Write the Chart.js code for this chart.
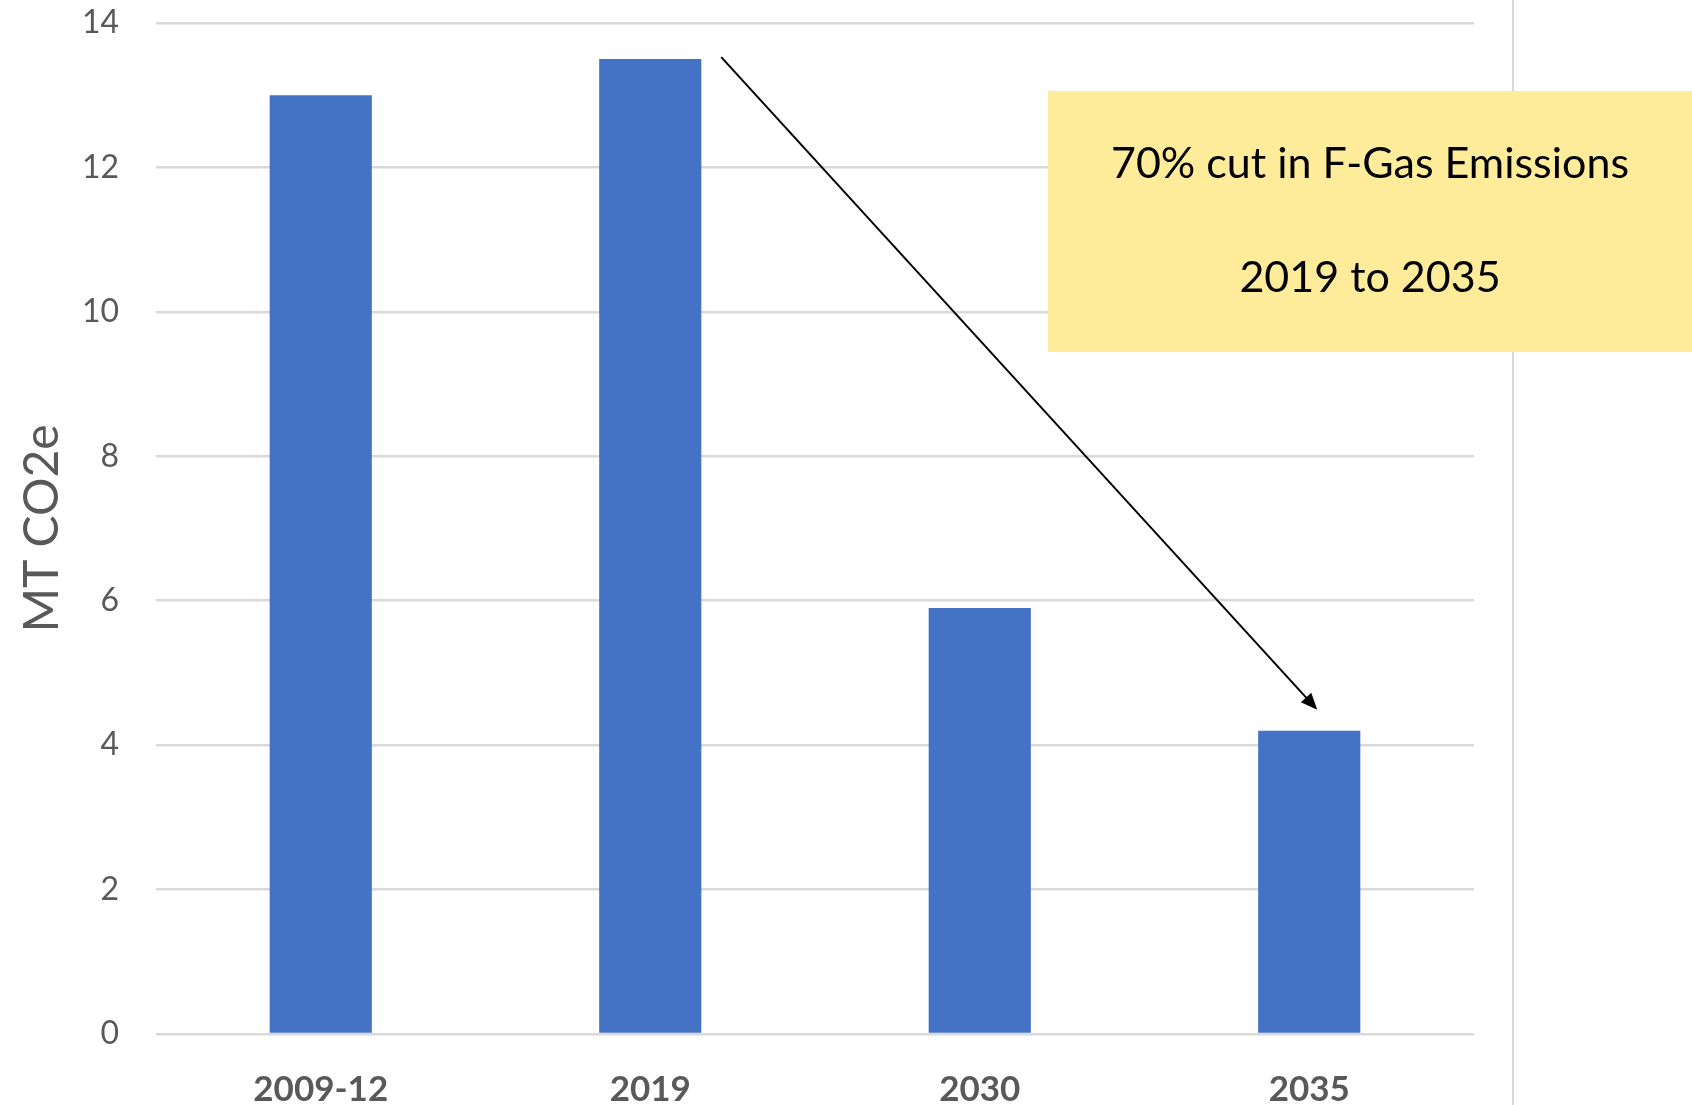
<!DOCTYPE html>
<html>
<head>
<meta charset="utf-8">
<script src="https://cdn.jsdelivr.net/npm/chart.js@4.4.1/dist/chart.umd.min.js"></script>
<style>
    html, body { margin: 0; padding: 0; background: #fff; }
    #wrap { width: 1692px; height: 1105px; position: relative; }
</style>
</head>
<body>
<div id="wrap"><canvas id="emissions"></canvas></div>
<script>
const periods = ["2009-12", "2019", "2030", "2035"];
const emissions = [13.0, 13.5, 5.9, 4.2];
const yTicks = [0, 2, 4, 6, 8, 10, 12, 14];
const boxLines = ["70% cut in F-Gas Emissions", "2019 to 2035"];

const grey = "#595959";
const gridGrey = "#d9d9d9";

// callout box, arrow and the right-hand frame line
const annotations = {
    id: "annotations",
    afterDraw(chart) {
        const ctx = chart.ctx;
        const x = chart.scales.x;
        const y = chart.scales.y;
        ctx.save();

        ctx.strokeStyle = gridGrey;
        ctx.lineWidth = 2;
        ctx.beginPath();
        ctx.moveTo(1513, 0);
        ctx.lineTo(1513, chart.height);
        ctx.stroke();

        ctx.fillStyle = "#ffec9a";
        ctx.fillRect(1048, 91, 644, 261);
        ctx.fillStyle = "#000";
        ctx.font = "43px Lato";
        ctx.textAlign = "center";
        ctx.textBaseline = "middle";
        ctx.fillText(boxLines[0], 1370, 164);
        ctx.fillText(boxLines[1], 1370, 278);

        const x0 = x.getPixelForValue(1) + 71;
        const y0 = y.getPixelForValue(emissions[1]) - 2;
        const x1 = x.getPixelForValue(3) + 8;
        const y1 = y.getPixelForValue(emissions[3]) - 21;
        const ang = Math.atan2(y1 - y0, x1 - x0);
        ctx.strokeStyle = "#000";
        ctx.lineWidth = 2;
        ctx.beginPath();
        ctx.moveTo(x0, y0);
        ctx.lineTo(x1 - 12 * Math.cos(ang), y1 - 12 * Math.sin(ang));
        ctx.stroke();
        ctx.fillStyle = "#000";
        ctx.beginPath();
        ctx.moveTo(x1, y1);
        ctx.lineTo(x1 - 18 * Math.cos(ang - 0.4), y1 - 18 * Math.sin(ang - 0.4));
        ctx.lineTo(x1 - 18 * Math.cos(ang + 0.4), y1 - 18 * Math.sin(ang + 0.4));
        ctx.closePath();
        ctx.fill();

        ctx.restore();
    },
};

new Chart(document.getElementById("emissions"), {
    type: "bar",
    data: {
        labels: periods,
        datasets: [
            {
                data: emissions,
                backgroundColor: "#4472c4",
                borderWidth: 0,
                categoryPercentage: 1,
                barPercentage: 0.31,
            },
        ],
    },
    options: {
        responsive: true,
        maintainAspectRatio: false,
        animation: false,
        layout: {
            padding: { top: 23, right: 218, bottom: 0, left: 0 },
        },
        scales: {
            x: {
                grid: { display: false, drawTicks: false },
                border: { display: false },
                ticks: {
                    color: grey,
                    padding: 35,
                    font: { family: "Lato", size: 35, weight: "bold" },
                },
                afterFit(scale) {
                    scale.height = 71;
                    scale.paddingLeft = 0;
                    scale.paddingRight = 0;
                },
            },
            y: {
                min: 0,
                max: 14,
                afterBuildTicks(scale) {
                    scale.ticks = yTicks.map((v) => ({ value: v }));
                },
                grid: { color: gridGrey, lineWidth: 2.5, drawTicks: false },
                border: { display: false },
                ticks: {
                    color: grey,
                    padding: 37,
                    font: { family: "Lato", size: 32 },
                },
                title: {
                    display: true,
                    text: "MT CO2e",
                    color: grey,
                    padding: { top: 14, bottom: 0 },
                    font: { family: "Lato", size: 48 },
                },
                afterFit(scale) {
                    scale.width = 156;
                    scale.paddingTop = 0;
                    scale.paddingBottom = 0;
                },
            },
        },
        plugins: {
            legend: { display: false },
            tooltip: { enabled: false },
        },
    },
    plugins: [annotations],
});
</script>
</body>
</html>
